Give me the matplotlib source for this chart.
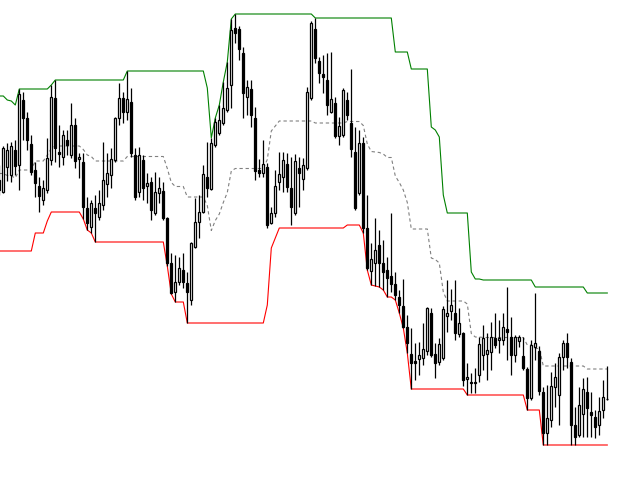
import numpy as np
import pandas as pd
import matplotlib
matplotlib.use("Agg")
import matplotlib.pyplot as plt
from matplotlib.patches import Rectangle

PERIOD = 20

# 20 bars of history that lie left of the visible frame (they seed the channel)
hist_open = [310, 330, 360, 340, 355, 320, 295, 270, 250, 265, 280, 270, 285, 300, 320, 330, 315, 305, 310, 300]
hist_high = [370, 384, 380, 379, 375, 360, 340, 310, 280, 290, 305, 300, 310, 330, 350, 355, 340, 330, 320, 315]
hist_low = [280, 310, 320, 330, 300, 280, 255, 235, 229, 247, 255, 247, 259, 275, 290, 300, 285, 280, 275, 285]
hist_close = [330, 360, 340, 355, 320, 295, 270, 250, 265, 280, 270, 285, 300, 320, 330, 315, 305, 310, 300, 290]

opens = [288, 313, 305, 330, 315, 380, 362, 336, 310, 294,
         280, 290, 320, 382, 328, 323, 340, 325, 355, 321,
         318, 272, 253, 272, 263, 275, 296, 305, 320, 362,
         382, 368, 378, 325, 288, 320, 294, 298, 267, 287,
         289, 262, 217, 188, 198, 210, 197, 180, 233, 258,
         268, 303, 291, 335, 347, 357, 370, 395, 452, 451,
         427, 383, 391, 362, 310, 307, 313, 257, 267, 298,
         303, 316, 292, 267, 312, 301, 312, 382, 451, 419,
         406, 400, 368, 377, 344, 345, 380, 357, 328, 287,
         337, 252, 209, 217, 235, 217, 210, 204, 196, 183,
         174, 153, 126, 119, 121, 122, 129, 167, 126, 118,
         122, 164, 169, 167, 146, 147, 101, 98, 98, 105,
         125, 126, 128, 142, 140, 140, 151, 143, 125, 139,
         124, 111, 82, 133, 129, 88, 47, 60, 93, 85,
         123, 137, 118, 55, 45, 66, 88, 68, 63, 55,
         70, 81]
highs = [334, 337, 338, 340, 391, 388, 368, 345, 318, 303,
         300, 342, 395, 400, 355, 350, 350, 377, 362, 327,
         327, 283, 280, 285, 290, 338, 327, 332, 363, 397,
         388, 409, 392, 332, 333, 325, 307, 303, 308, 303,
         298, 263, 227, 225, 223, 227, 208, 238, 282, 285,
         315, 338, 342, 362, 375, 398, 418, 461, 466, 454,
         433, 400, 400, 373, 321, 340, 317, 273, 310, 328,
         328, 327, 323, 326, 323, 322, 393, 459, 462, 423,
         425, 427, 428, 383, 363, 392, 388, 411, 353, 350,
         343, 285, 237, 262, 250, 240, 223, 267, 208, 190,
         201, 165, 152, 137, 138, 157, 173, 172, 137, 142,
         174, 200, 191, 200, 172, 148, 117, 107, 112, 143,
         155, 147, 158, 167, 160, 167, 193, 163, 145, 145,
         143, 113, 140, 187, 134, 93, 95, 108, 117, 127,
         140, 147, 122, 73, 93, 102, 103, 88, 70, 83,
         100, 114]
lows = [287, 299, 298, 305, 290, 340, 330, 305, 283, 268,
        275, 287, 315, 318, 313, 315, 325, 322, 312, 302,
        261, 250, 247, 238, 260, 270, 283, 292, 318, 355,
        357, 360, 323, 280, 283, 280, 277, 260, 265, 277,
        260, 214, 186, 178, 195, 192, 157, 175, 232, 242,
        267, 283, 290, 333, 345, 355, 368, 372, 437, 420,
        362, 365, 353, 300, 303, 303, 252, 256, 263, 290,
        288, 288, 255, 265, 273, 290, 310, 380, 417, 397,
        387, 365, 367, 342, 335, 343, 360, 323, 270, 285,
        247, 210, 195, 194, 193, 190, 183, 188, 180, 167,
        152, 127, 91, 100, 105, 115, 125, 123, 102, 115,
        120, 148, 160, 140, 143, 94, 85, 87, 87, 98,
        110, 100, 110, 132, 127, 135, 120, 105, 118, 133,
        110, 70, 80, 120, 85, 35, 35, 53, 73, 55,
        110, 112, 35, 35, 43, 43, 43, 43, 42, 45,
        62, 80]
closes = [332, 330, 334, 314, 386, 362, 340, 308, 297, 284,
          292, 322, 383, 332, 326, 345, 335, 355, 319, 323,
          273, 257, 277, 267, 277, 300, 307, 321, 362, 382,
          368, 381, 327, 283, 325, 292, 297, 270, 288, 292,
          262, 217, 187, 198, 212, 198, 188, 237, 258, 268,
          306, 292, 337, 358, 360, 372, 392, 450, 447, 431,
          387, 393, 365, 309, 307, 316, 255, 267, 294, 306,
          320, 293, 273, 319, 307, 315, 388, 457, 422, 407,
          403, 375, 381, 344, 354, 390, 365, 331, 272, 337,
          252, 212, 221, 230, 217, 208, 202, 196, 185, 175,
          153, 137, 117, 117, 125, 131, 172, 125, 117, 136,
          171, 167, 175, 147, 157, 100, 103, 97, 97, 136,
          142, 130, 143, 135, 142, 153, 148, 125, 143, 143,
          112, 82, 135, 137, 89, 47, 62, 94, 103, 123,
          137, 123, 55, 43, 75, 91, 72, 65, 53, 69,
          83, 81]

o = np.array(hist_open + opens, dtype=float)
h = np.array(hist_high + highs, dtype=float)
l = np.array(hist_low + lows, dtype=float)
c = np.array(hist_close + closes, dtype=float)
x = np.arange(-len(hist_open), len(opens))

upper = pd.Series(h).rolling(PERIOD, min_periods=1).max().to_numpy()
lower = pd.Series(l).rolling(PERIOD, min_periods=1).min().to_numpy()
mid = (upper + lower) / 2

fig = plt.figure(figsize=(6.4, 4.8), dpi=100)
fig.patch.set_facecolor("white")
ax = fig.add_axes([0, 0, 1, 1])
ax.set_axis_off()

show = x >= -1
ax.plot(x[show], upper[show], color="#008000", lw=0.8, zorder=1)
ax.plot(x[show], lower[show], color="#ff0000", lw=0.8, zorder=1)
ax.plot(x[show], mid[show], color="#808080", lw=0.8, ls=(0, (3, 2.5)), zorder=1)

ax.vlines(x, l, h, color="black", lw=0.9, zorder=2)
bw = 0.5
for xi, oi, ci in zip(x, o, c):
    bottom = min(oi, ci)
    height = abs(ci - oi)
    fc = "white" if ci > oi else "black"
    ax.add_patch(Rectangle((xi - bw / 2, bottom), bw, height, facecolor=fc,
                           edgecolor="black", lw=0.9, zorder=3))

ax.set_xlim(-0.825, 159.175)
ax.set_ylim(0, 480)
fig.savefig("out.png", dpi=100, facecolor="white")
